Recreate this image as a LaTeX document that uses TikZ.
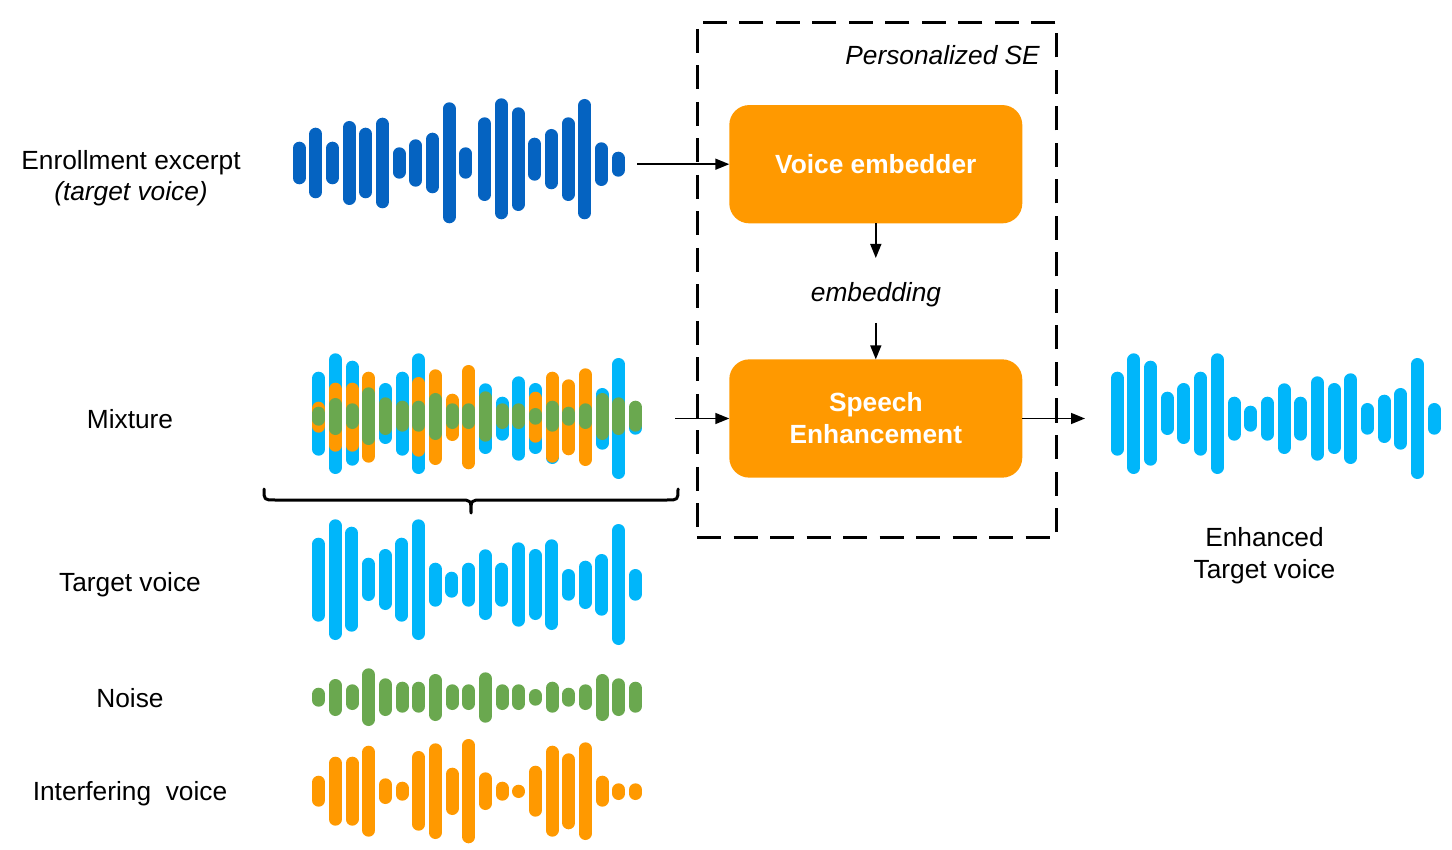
\documentclass[tikz,border=0pt]{standalone}
\usepackage{fontspec}
\setmainfont{Liberation Sans}
\usetikzlibrary{arrows.meta}
\definecolor{dblue}{HTML}{0563C1}
\definecolor{lblue}{HTML}{00B6FA}
\definecolor{sorange}{HTML}{FF9900}
\definecolor{sgreen}{HTML}{6AA84F}
% #1 x0, #2 step, #3 reference y, #4 colour, #5 list top/bottom offsets
\newcommand{\wavebars}[5]{%
  \foreach \tp/\bt [count=\i from 0] in {#5} {
    \draw[wbar, #4] ({#1+\i*#2}, {#3+\tp+6.5}) -- ({#1+\i*#2}, {#3+\bt-6.5});
  }%
}
\def\targetlist{-42.3/41.7, -60.7/60, -53.3/51.7, -22.3/21, -31/30, -42.3/41.7, -60.7/60, -17.3/26.7, -8.3/17.7, -17.3/26.7, -30.7/40, -17.3/26.7, -37.7/46.7, -31/40, -40.7/50, -11/20.7, -19.3/29, -26/35.7, -56/65, -11/20.7}
\def\noiselist{-9.3/9.7, -18/19, -12.7/13, -28.7/29, -18.7/19, -15.3/15.7, -15.3/15.7, -23/24, -12.7/13, -12.7/13, -24.7/25.7, -12.7/13, -12.7/13, -8/8.7, -15.3/15.7, -9.3/9.7, -12.7/13, -23/24, -18.7/19, -15.3/15.7}
\def\interflist{-15.3/15.7, -34.3/34.7, -34.3/34.7, -45.3/45.7, -12.7/13, -9.3/9.7, -40/39.7, -47.7/48, -23.3/24, -52/52.3, -18.7/19, -9.3/9.7, -6/6.7, -25.3/25.7, -45.3/45.7, -37.7/38.3, -48.7/49, -15.3/15.7, -7.7/9, -7.7/9}
\begin{document}
\begin{tikzpicture}[x=1pt, y=-1pt,
  wbar/.style={line width=13pt, line cap=round},
  lbl/.style={font=\fontsize{26.3}{32}\selectfont, inner sep=0pt, align=center},
  orbox/.style={fill=sorange, rounded corners=20pt, minimum width=293pt, minimum height=118.3pt,
    text=white, font=\fontsize{26.3}{32}\selectfont\bfseries, align=center, inner sep=0pt, outer sep=0pt},
  arr/.style={line width=1.5pt, -{Triangle[length=14pt,width=11pt]}},
  dashbox/.style={draw, line width=3pt, dash pattern=on 24pt off 12.5pt, minimum width=359.7pt,
    minimum height=515pt, inner sep=0pt, outer sep=0pt}
]
\useasboundingbox (0,0) rectangle (1452,850);

% ---- waveforms ----
% enrollment excerpt
\foreach \x/\t/\b in {299.2/141.7/184.3, 315.8/127.7/198.3, 332.5/141.7/184.3, 349.2/121/205, 365.8/127.7/198.3, 382.5/117.7/208.3, 399.2/147.3/178.7, 415.8/139.3/186.7, 432.5/132.7/193.3, 449.2/102.3/223.3, 465.8/147.3/178.7, 484.7/117.3/201, 501.3/98.3/219.3, 518/107.3/211, 534.7/137.7/180.7, 551.3/129/189.3, 568/117.3/201, 584.7/99/219.3, 601.3/142.3/186, 618/151.7/176.7}
  {\draw[wbar, dblue] (\x, \t+6.5) -- (\x, \b-6.5);}

% mixture (target, interfering, noise layered)
\edef\tmp{\noexpand\wavebars{318.7}{16.67}{414}{lblue}{\targetlist}}\tmp
\edef\tmp{\noexpand\wavebars{318.7}{16.67}{417}{sorange}{\interflist}}\tmp
\edef\tmp{\noexpand\wavebars{318.7}{16.67}{416}{sgreen}{\noiselist}}\tmp

% components
\edef\tmp{\noexpand\wavebars{318.5}{16.67}{580}{lblue}{\targetlist}}\tmp
\edef\tmp{\noexpand\wavebars{318.7}{16.67}{697}{sgreen}{\noiselist}}\tmp
\edef\tmp{\noexpand\wavebars{318.7}{16.67}{791}{sorange}{\interflist}}\tmp
% enhanced output
\edef\tmp{\noexpand\wavebars{1117.3}{16.67}{414}{lblue}{\targetlist}}\tmp

% ---- brace ----
\draw[line width=3pt, line cap=round, line join=round]
  (264,489) .. controls (264,500) .. (275,500) -- (460,500)
  .. controls (471,500) .. (471,513) .. controls (471,500) .. (482,500)
  -- (667,500) .. controls (678,500) .. (678,489);

% ---- personalized SE block ----
\node[dashbox] (pse) at (876.85,279.8) {};
\node[lbl, anchor=base east, font=\fontsize{26.3}{32}\selectfont\itshape] (psel) at (1040,64.3) {Personalized SE};
\node[orbox] (ve) at (875.8,164.2) {Voice embedder};
\node[orbox] (se) at (875.8,418.5) {Speech\\Enhancement};
\node[lbl, anchor=base, font=\fontsize{26.3}{32}\selectfont\itshape] (emb) at (876,301.7) {embedding};

% ---- labels ----
\node[lbl, font=\fontsize{26.3}{31}\selectfont] (lenr) at (131,178.3) {Enrollment excerpt\\\textit{(target voice)}};
\node[lbl, anchor=base] (lmix) at (130,428.5) {Mixture};
\node[lbl, anchor=base] (ltgt) at (130,591.7) {Target voice};
\node[lbl, anchor=base] (lnoi) at (130,707.7) {Noise};
\node[lbl, anchor=base] (lint) at (130,800.7) {Interfering\ \ voice};
\node[lbl] (lenh) at (1264.5,555.8) {Enhanced\\Target voice};

% ---- connectors ----
\coordinate (enrout) at (637,164.2);
\coordinate (mixout) at (675,418.5);
\coordinate (embtop) at (875.8,258);
\coordinate (embbot) at (875.8,323);
\coordinate (outend) at (1085,418.5);
\draw[arr] (enrout) -- (ve.west);
\draw[arr] (ve.south) -- (embtop);
\draw[arr] (embbot) -- (se.north);
\draw[arr] (mixout) -- (se.west);
\draw[arr] (se.east) -- (outend);
\end{tikzpicture}
\end{document}
